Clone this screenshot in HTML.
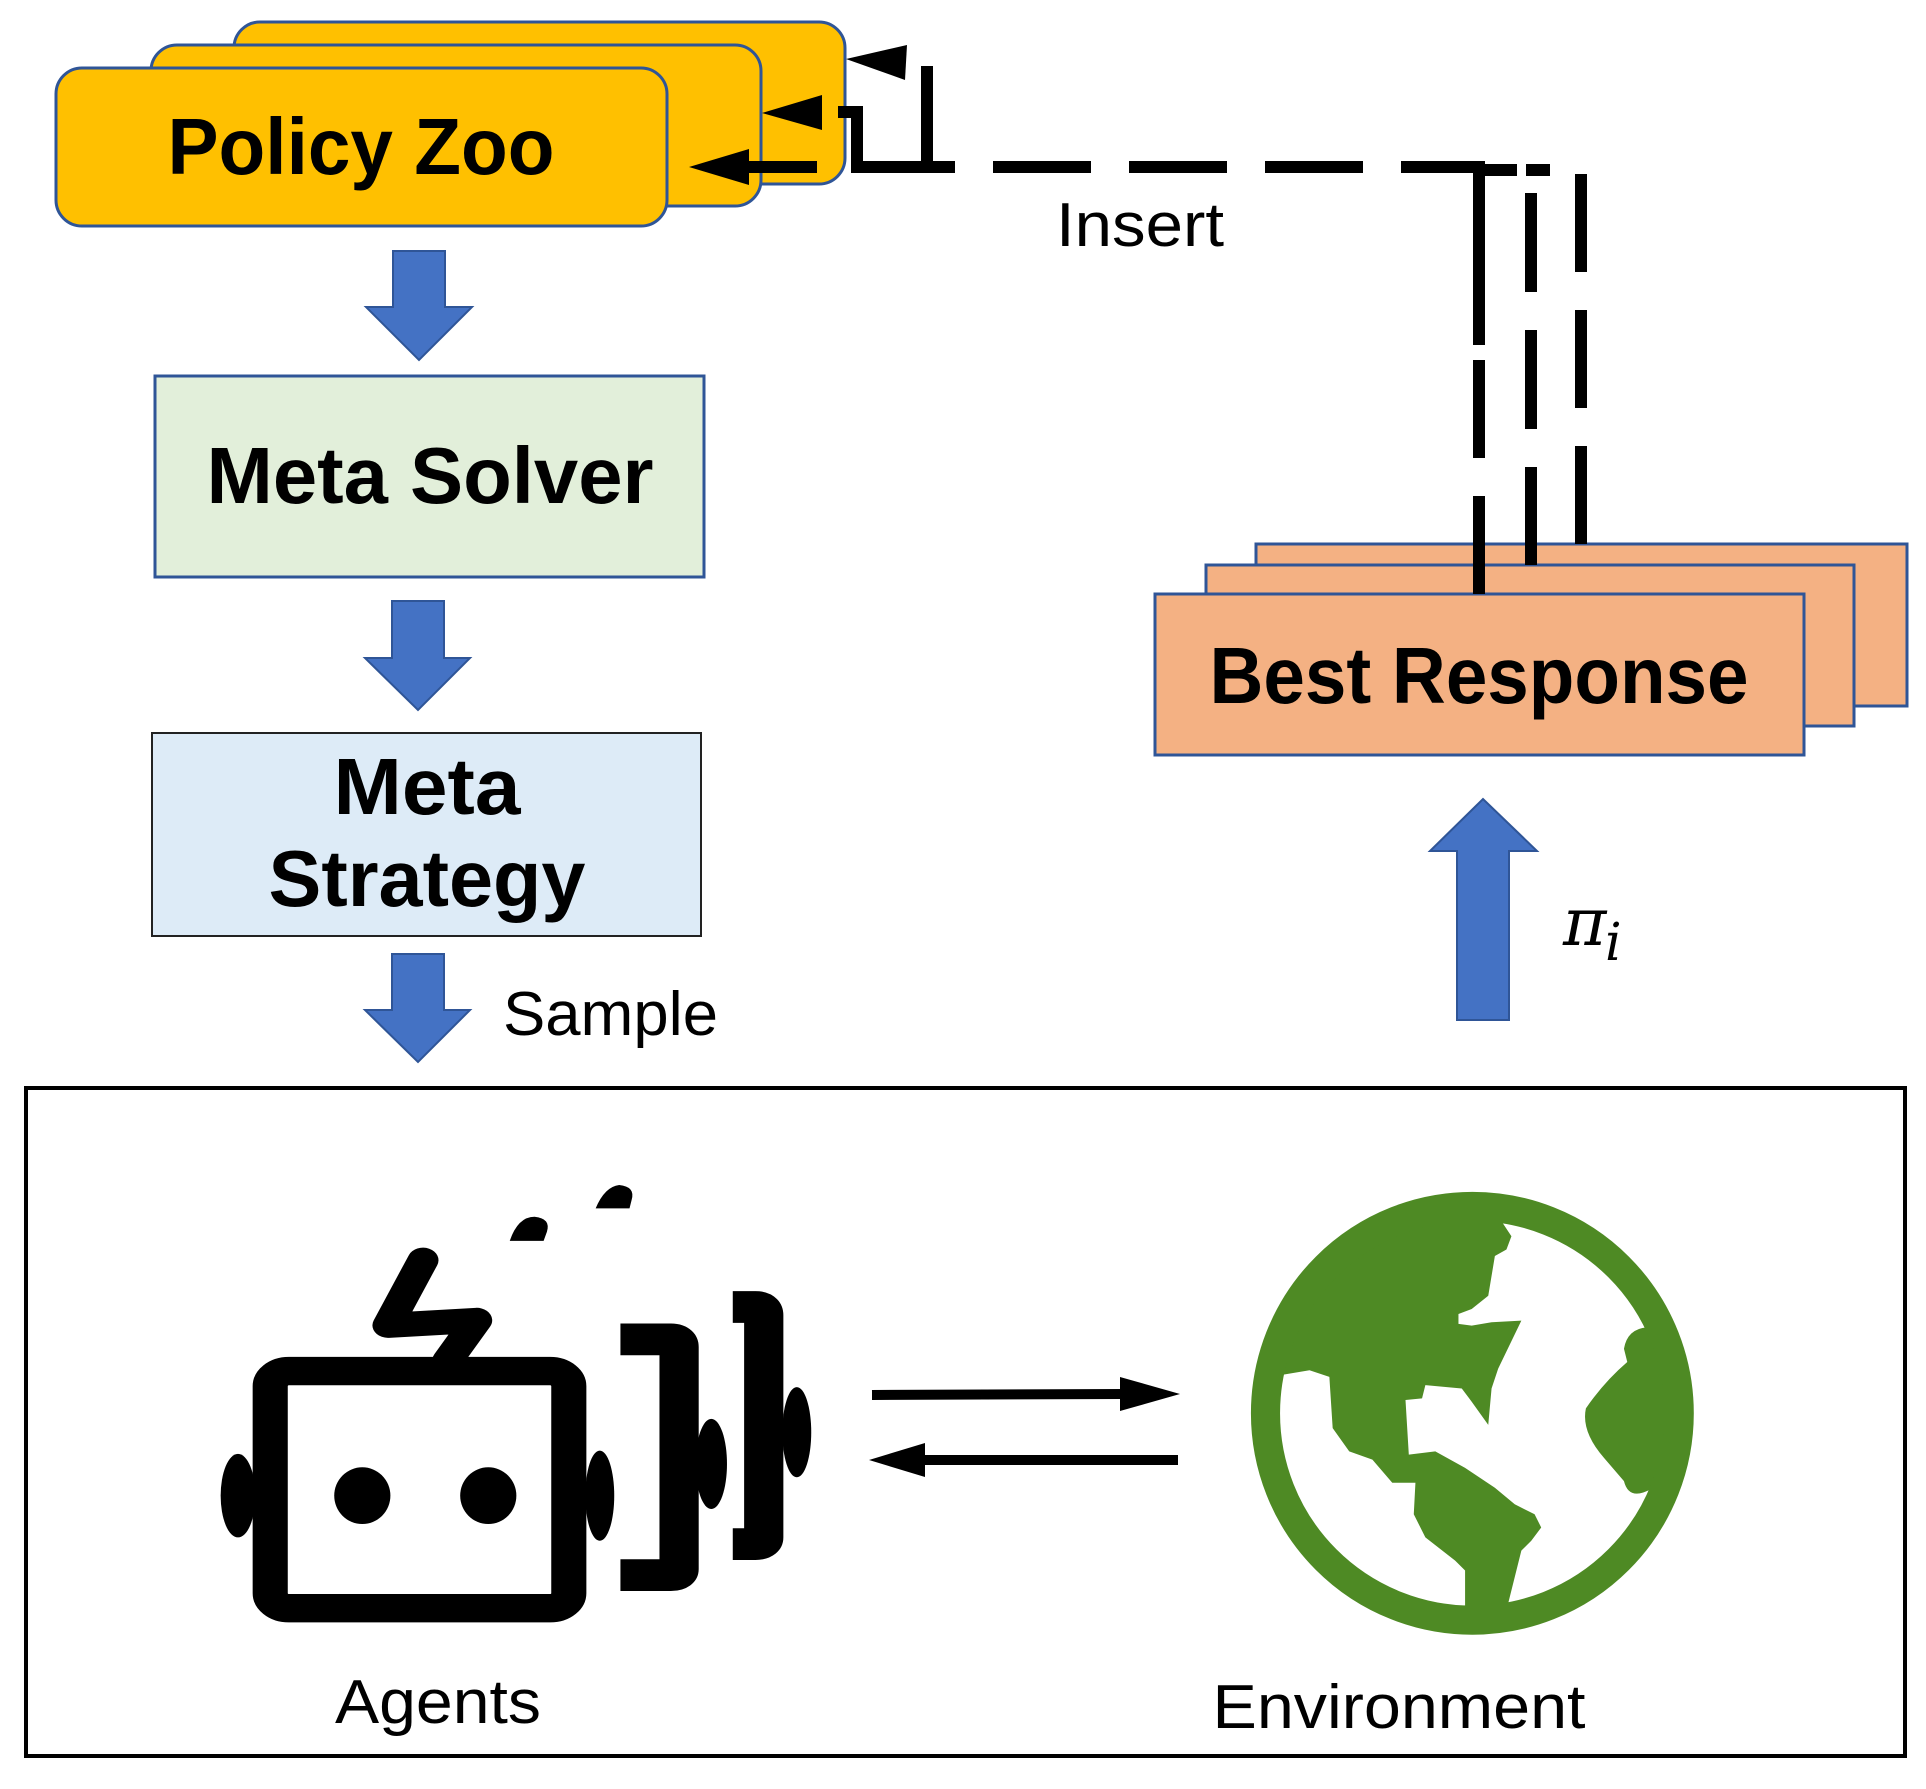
<!DOCTYPE html>
<html><head><meta charset="utf-8"><style>
html,body{margin:0;padding:0;background:#fff;}
svg{display:block;}
</style></head><body>
<svg width="1926" height="1789" viewBox="0 0 1926 1789" xmlns="http://www.w3.org/2000/svg">
<defs>
<clipPath id="inner"><circle cx="702" cy="735" r="600"/></clipPath>
</defs>
<!-- Policy Zoo stack -->
<rect x="234" y="22" width="611" height="162" rx="26" fill="#FFC000" stroke="#2F5597" stroke-width="3"/>
<rect x="151" y="45" width="610" height="161" rx="26" fill="#FFC000" stroke="#2F5597" stroke-width="3"/>
<rect x="56" y="68" width="611" height="158" rx="26" fill="#FFC000" stroke="#2F5597" stroke-width="3"/>
<text x="361" y="174" font-family="Liberation Sans, sans-serif" font-weight="bold" font-size="80" text-anchor="middle" textLength="387" lengthAdjust="spacingAndGlyphs">Policy Zoo</text>

<!-- arrows down -->
<polygon points="393,251 445,251 445,307 472,307 419,360 366,307 393,307" fill="#4472C4" stroke="#2F5597" stroke-width="2"/>
<rect x="155" y="376" width="549" height="201" fill="#E2EFDA" stroke="#2F5597" stroke-width="3"/>
<text x="430" y="503" font-family="Liberation Sans, sans-serif" font-weight="bold" font-size="80" text-anchor="middle" textLength="447" lengthAdjust="spacingAndGlyphs">Meta Solver</text>
<polygon points="392,601 444,601 444,658 470,658 418,710 365,658 392,658" fill="#4472C4" stroke="#2F5597" stroke-width="2"/>
<rect x="152" y="733" width="549" height="203" fill="#DDEBF7" stroke="#222" stroke-width="2"/>
<text x="427" y="814" font-family="Liberation Sans, sans-serif" font-weight="bold" font-size="80" text-anchor="middle" textLength="187" lengthAdjust="spacingAndGlyphs">Meta</text>
<text x="427" y="906" font-family="Liberation Sans, sans-serif" font-weight="bold" font-size="80" text-anchor="middle" textLength="317" lengthAdjust="spacingAndGlyphs">Strategy</text>
<polygon points="392,954 444,954 444,1010 470,1010 418,1062 365,1010 392,1010" fill="#4472C4" stroke="#2F5597" stroke-width="2"/>
<text x="503" y="1035" font-family="Liberation Sans, sans-serif" font-size="62" textLength="215" lengthAdjust="spacingAndGlyphs">Sample</text>

<!-- Best Response stack -->
<rect x="1256" y="544" width="651" height="162" fill="#F4B183" stroke="#2F5597" stroke-width="3"/>
<rect x="1206" y="565" width="648" height="161" fill="#F4B183" stroke="#2F5597" stroke-width="3"/>
<rect x="1155" y="594" width="649" height="161" fill="#F4B183" stroke="#2F5597" stroke-width="3"/>
<text x="1479" y="703" font-family="Liberation Sans, sans-serif" font-weight="bold" font-size="80" text-anchor="middle" textLength="539" lengthAdjust="spacingAndGlyphs">Best Response</text>

<!-- up arrow -->
<polygon points="1457,1020 1509,1020 1509,851 1537,851 1483,799 1430,851 1457,851" fill="#4472C4" stroke="#2F5597" stroke-width="2"/>
<text x="1563" y="945" font-family="DejaVu Serif, serif" font-style="italic" font-size="66">π</text>
<text x="1605" y="960" font-family="DejaVu Serif, serif" font-style="italic" font-size="52">i</text>

<!-- insert dashed lines -->
<g stroke="#000" stroke-width="12" fill="none">
<line x1="857" y1="167" x2="1485" y2="167" stroke-dasharray="98 38"/>
<line x1="1473" y1="170" x2="1517" y2="170"/>
<line x1="1526" y1="170" x2="1550" y2="170"/>
<line x1="1479" y1="167" x2="1479" y2="594" stroke-dasharray="178 15 98 38 98 38 98 38"/>
<line x1="1531" y1="193" x2="1531" y2="565" stroke-dasharray="99 38"/>
<line x1="1581" y1="174" x2="1581" y2="544" stroke-dasharray="98 38"/>
<polyline points="927,66 927,167 857,167 857,112 838,112"/>
<line x1="745" y1="167" x2="817" y2="167"/>
</g>
<polygon points="846,59 907,45 905,80" fill="#000"/>
<polygon points="762,113 822,95 822,130" fill="#000"/>
<polygon points="689,167 749,149 749,185" fill="#000"/>
<text x="1056" y="246" font-family="Liberation Sans, sans-serif" font-size="62" textLength="168" lengthAdjust="spacingAndGlyphs">Insert</text>

<!-- bottom box -->
<rect x="26" y="1088" width="1879" height="668" fill="none" stroke="#000" stroke-width="4"/>

<!-- robot -->
<g transform="translate(200,1160) scale(0.413,0.334)">
<path d="M540,300 L455,495 L670,480 L600,600" fill="none" stroke="#000" stroke-width="75" stroke-linecap="round" stroke-linejoin="round"/>
<rect x="170" y="632" width="723" height="710" rx="45" fill="#fff" stroke="#000" stroke-width="85"/>
<ellipse cx="393" cy="1005" rx="68" ry="85" fill="#000"/>
<ellipse cx="698" cy="1005" rx="68" ry="85" fill="#000"/>
<ellipse cx="92" cy="1005" rx="42" ry="125" fill="#000"/>
<ellipse cx="968" cy="1005" rx="35" ry="135" fill="#000"/>
<path d="M1018,537 H1140 Q1160,537 1160,560 V1225 Q1160,1243 1140,1243 H1018" fill="none" stroke="#000" stroke-width="95"/>
<ellipse cx="1238" cy="910" rx="38" ry="135" fill="#000"/>
<path d="M1290,440 H1345 Q1365,440 1365,465 V1130 Q1365,1150 1345,1150 H1290" fill="none" stroke="#000" stroke-width="95"/>
<ellipse cx="1445" cy="815" rx="35" ry="135" fill="#000"/>
<path d="M750,242 Q770,170 810,170 Q850,175 840,215 L832,242 Z" fill="#000"/>
<path d="M958,145 Q980,80 1015,75 Q1055,80 1045,120 L1040,145 Z" fill="#000"/>
</g>
<text x="438" y="1723" font-family="Liberation Sans, sans-serif" font-size="62" text-anchor="middle" textLength="206" lengthAdjust="spacingAndGlyphs">Agents</text>

<!-- exchange arrows -->
<line x1="872" y1="1395" x2="1125" y2="1394" stroke="#000" stroke-width="10"/>
<polygon points="1180,1394 1120,1377 1120,1411" fill="#000"/>
<line x1="920" y1="1460" x2="1178" y2="1460" stroke="#000" stroke-width="10"/>
<polygon points="869,1460 925,1443 925,1477" fill="#000"/>

<!-- globe -->
<g transform="translate(1240,1170) scale(0.331)">
<circle cx="702" cy="735" r="660" fill="#4E8A24"/>
<g clip-path="url(#inner)">
<g fill="#fff">
<polygon points="120,620 210,605 270,625 280,780 330,850 400,875 460,945 530,945 525,1040 560,1110 650,1180 680,1210 680,1450 0,1450 0,620"/>
<polygon points="790,155 820,200 805,240 770,260 750,380 700,420 660,435 660,465 700,470 760,460 850,455 780,600 760,660 750,770 700,700 670,660 560,650 550,690 500,695 510,860 590,850 680,900 770,960 830,1010 890,1040 910,1080 880,1120 850,1150 830,1230 810,1310 1450,1450 1450,0 790,0"/>
</g>
<path d="M1230,475 Q1170,480 1160,540 L1170,580 Q1100,640 1045,720 Q1030,790 1100,870 L1160,940 Q1175,1000 1240,965 L1400,800 L1400,480 Z" fill="#4E8A24"/>
</g>
<circle cx="702" cy="735" r="625" fill="none" stroke="#4E8A24" stroke-width="88"/>
</g>
<text x="1399" y="1728" font-family="Liberation Sans, sans-serif" font-size="62" text-anchor="middle" textLength="373" lengthAdjust="spacingAndGlyphs">Environment</text>
</svg>
</body></html>
